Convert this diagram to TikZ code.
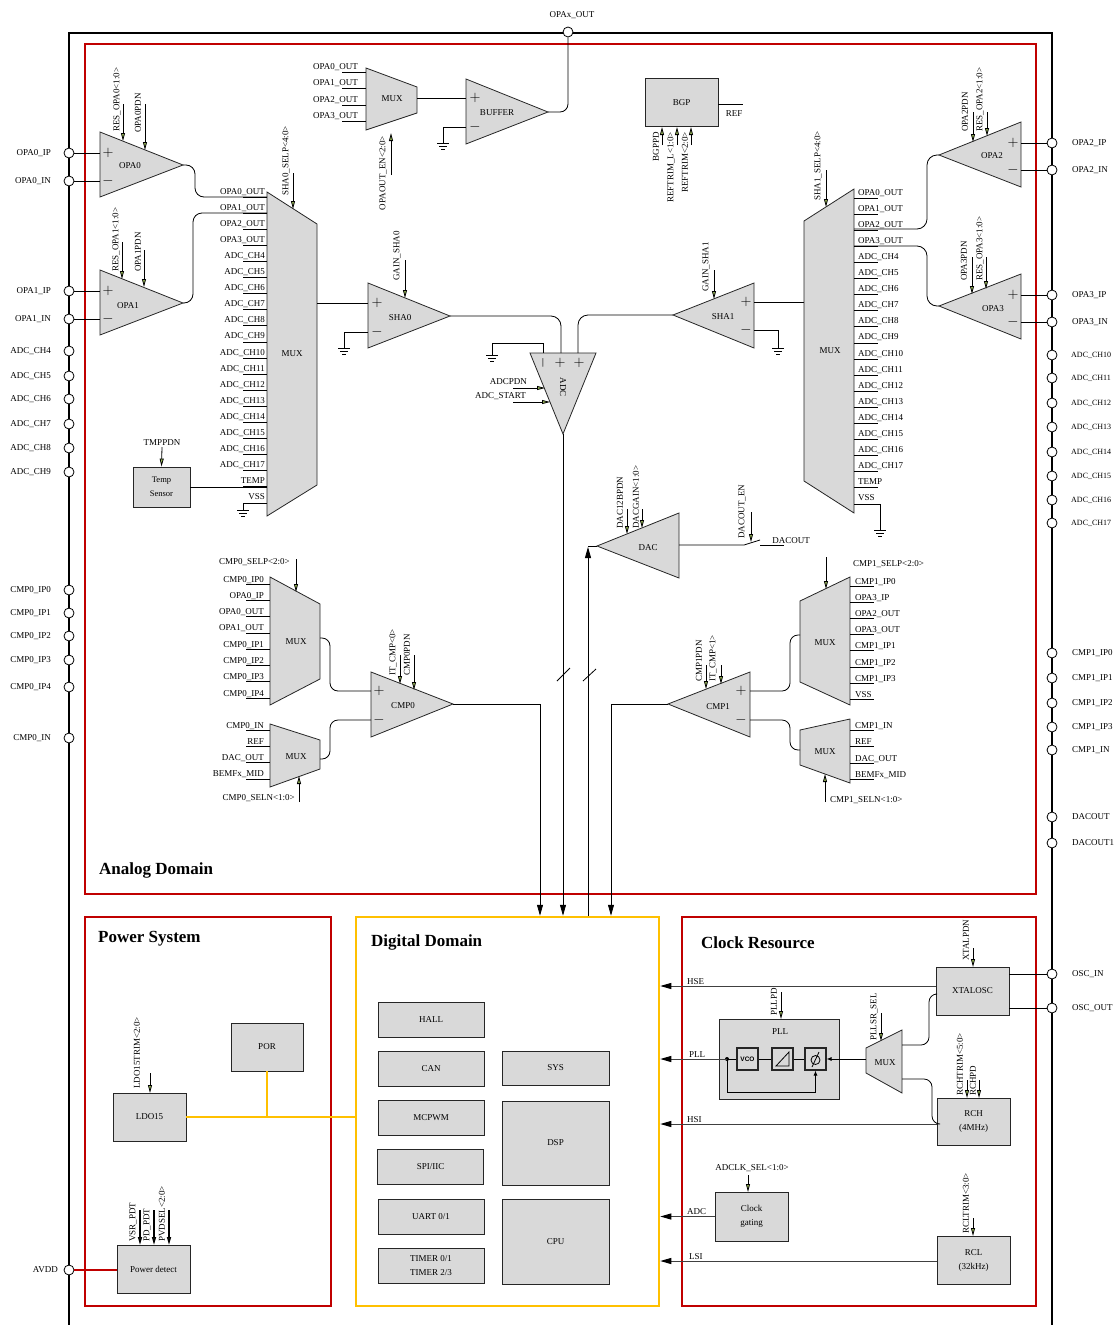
\documentclass[tikz,border=0pt]{standalone}
\usepackage{fontspec}
\setmainfont{Liberation Serif}
\setsansfont{Liberation Sans}
\usetikzlibrary{arrows.meta}

\definecolor{domred}{RGB}{192,0,0}
\definecolor{domyellow}{RGB}{255,192,0}
\definecolor{blockgray}{RGB}{217,217,217}
\definecolor{ctlgreen}{RGB}{155,187,89}

\tikzset{
  every node/.style={font=\fontsize{9}{10}\selectfont, inner sep=1pt},
  blk/.style={draw=black!85, fill=blockgray, line width=0.8pt},
  dblk/.style={blk, minimum width=106pt, minimum height=35pt},
  iblk/.style={blk, line width=1.1pt, minimum width=21pt, minimum height=22pt, inner sep=0pt},
  iopad/.style={circle, draw, fill=white, line width=0.8pt, minimum size=10pt, inner sep=0pt},
  sig/.style={line width=0.8pt},
  ctl/.style={line width=0.8pt, -{Triangle[length=8pt,width=4pt,fill=ctlgreen]}},
  bus/.style={line width=0.8pt, -{Triangle[length=11pt,width=6pt]}},
  clk/.style={line width=1pt, draw=black!75, -{Triangle[length=11pt,width=6pt,color=black]}},
  dombox/.style={draw=domred, line width=2.5pt, inner sep=0pt},
  domtitle/.style={anchor=west, font=\fontsize{17}{20}\selectfont\bfseries},
  rotl/.style={rotate=90, anchor=west},
  rotr/.style={rotate=90, anchor=east},
  sgn/.style={font=\fontsize{14}{14}\selectfont, inner sep=0pt},
  gnd/.pic={\draw[sig] (-6,0) -- (6,0) (-4,3) -- (4,3) (-2,6) -- (2,6);}
}

\begin{document}
\begin{tikzpicture}[x=1pt,y=-1pt]
\useasboundingbox (0,0) rectangle (1115,1325);

% chip outline and domains
\draw[line width=2.5pt] (69,1330) -- (69,33) -- (1052,33) -- (1052,1330);
\node[dombox, minimum width=951pt, minimum height=850pt] (analog) at (560.5,469) {};
\node[domtitle] at (98,870) {Analog Domain};
\node[dombox, minimum width=246pt, minimum height=389pt] (power) at (208,1111.5) {};
\node[domtitle] at (97,939) {Power System};
\node[dombox, draw=domyellow, minimum width=303pt, minimum height=389pt] (digital) at (507.5,1111.5) {};
\node[domtitle] at (370,942) {Digital Domain};
\node[dombox, minimum width=354pt, minimum height=389pt] (clock) at (859,1111.5) {};
\node[domtitle] at (700,943) {Clock Resource};

% pads
\foreach \y/\t in {153/OPA0\_IP,181/OPA0\_IN,291/OPA1\_IP,319/OPA1\_IN,351/ADC\_CH4,376/ADC\_CH5,399/ADC\_CH6,424/ADC\_CH7,448/ADC\_CH8,472/ADC\_CH9,590/CMP0\_IP0,613/CMP0\_IP1,636/CMP0\_IP2,660/CMP0\_IP3,687/CMP0\_IP4,738/CMP0\_IN}{
  \node[iopad] (pl\y) at (69,\y) {};
  \node[anchor=east] at (52,\y) {\t};
}
\foreach \y/\t in {143/OPA2\_IP,170/OPA2\_IN,295/OPA3\_IP,322/OPA3\_IN,653/CMP1\_IP0,678/CMP1\_IP1,703/CMP1\_IP2,727/CMP1\_IP3,750/CMP1\_IN,817/DACOUT,843/DACOUT1,974/OSC\_IN,1008/OSC\_OUT}{
  \node[iopad] (pr\y) at (1052,\y) {};
  \node[anchor=west] at (1071,\y) {\t};
}
\foreach \y/\t in {355/ADC\_CH10,378/ADC\_CH11,403/ADC\_CH12,427/ADC\_CH13,452/ADC\_CH14,476/ADC\_CH15,500/ADC\_CH16,523/ADC\_CH17}{
  \node[iopad] (pr\y) at (1052,\y) {};
  \node[anchor=west, font=\fontsize{8}{9}\selectfont] at (1070,\y) {\t};
}
\node[iopad] (popax) at (568,32) {};
\node at (572,15) {OPAx\_OUT};
\node[iopad] (pavdd) at (69,1270) {};
\node[anchor=east] at (59,1270) {AVDD};

% OPA0 and OPA1
\draw[blk] (100,132) -- (183,165) -- (100,197) -- cycle;
\coordinate (opa0o) at (183,165);
\node at (130,166) {OPA0};
\node[sgn] at (108,153) {$+$};
\node[sgn] at (108,181) {$-$};
\draw[sig] (pl153) -- (100,153);
\draw[sig] (pl181) -- (100,181);
\draw[ctl] (123,104) -- (123,141);
\node[rotl] at (117,133) {RES\_OPA0<1:0>};
\draw[ctl] (145,104) -- (145,150);
\node[rotl] at (138,134) {OPA0PDN};

\draw[blk] (100,270) -- (183,303) -- (100,335) -- cycle;
\coordinate (opa1o) at (183,303);
\node at (128,306) {OPA1};
\node[sgn] at (108,291) {$+$};
\node[sgn] at (108,319) {$-$};
\draw[sig] (pl291) -- (100,291);
\draw[sig] (pl319) -- (100,319);
\draw[ctl] (122,242) -- (122,279);
\node[rotl] at (116,273) {RES\_OPA1<1:0>};
\draw[ctl] (144,250) -- (144,287);
\node[rotl] at (138,273) {OPA1PDN};

% SHA0 input mux
\draw[blk] (267,192) -- (317,224) -- (317,485) -- (267,516) -- cycle;
\node at (292,354) {MUX};
\foreach \i/\t in {0/OPA0\_OUT,1/OPA1\_OUT,2/OPA2\_OUT,3/OPA3\_OUT,4/ADC\_CH4,5/ADC\_CH5,6/ADC\_CH6,7/ADC\_CH7,8/ADC\_CH8,9/ADC\_CH9,10/ADC\_CH10,11/ADC\_CH11,12/ADC\_CH12,13/ADC\_CH13,14/ADC\_CH14,15/ADC\_CH15,16/ADC\_CH16,17/ADC\_CH17,18/TEMP,19/VSS}{
  \draw[sig] (243,197+16.1*\i) -- (267,197+16.1*\i);
  \node[anchor=base east] at (266,194+16.1*\i) {\t};
}
\draw[sig, rounded corners=9pt] (opa0o) -- (195,165) |- (267,197);
\draw[sig, rounded corners=9pt] (opa1o) -- (193,303) |- (267,213);
\draw[ctl] (293,173) -- (293,209);
\node[rotl] at (286,197) {SHA0\_SELP<4:0>};
\node[blk, minimum width=57pt, minimum height=40pt, align=center, font=\fontsize{8.5}{14}\selectfont] (temp) at (161.5,487) {Temp\\Sensor};
\node (tmppdn) at (162,443) {TMPPDN};
\draw[ctl] (tmppdn.south) -- (temp.north);
\draw[sig] (temp.east) -- (267,487);
\draw[sig] (267,503) -- (243,503) -- (243,510);
\pic at (243,510) {gnd};

% SHA0
\draw[blk] (368,283) -- (450,316) -- (368,348) -- cycle;
\coordinate (sha0o) at (450,316);
\node at (400,318) {SHA0};
\node[sgn] at (377,303) {$+$};
\node[sgn] at (377,332) {$-$};
\draw[sig] (317,303) -- (368,303);
\draw[sig] (368,332) -- (344,332) -- (344,348);
\pic at (344,348) {gnd};
\draw[ctl] (405,260) -- (405,298);
\node[rotl] at (397,282) {GAIN\_SHA0};

% ADC
\draw[blk] (530,353) -- (596,353) -- (563,434) -- cycle;
\coordinate (adco) at (563,434);
\node[sgn, rotate=90] at (543,363) {$-$};
\node[sgn] at (560,363) {$+$};
\node[sgn] at (579,363) {$+$};
\node[rotate=-90] at (563,387) {ADC};
\draw[sig] (543,353) -- (543,343) -- (492,343) -- (492,355);
\pic at (492,355) {gnd};
\node[anchor=east] at (528,382) {ADCPDN};
\draw[ctl] (513,388) -- (545,388);
\node[anchor=east] at (527,396) {ADC\_START};
\draw[ctl] (513,402) -- (550,402);
\draw[sig, rounded corners=10pt] (sha0o) -- (561,316) -- (561,353);

% SHA1
\draw[blk] (754,283) -- (673,315) -- (754,348) -- cycle;
\coordinate (sha1o) at (673,315);
\node at (723,317) {SHA1};
\node[sgn] at (746,302) {$+$};
\node[sgn] at (746,330) {$-$};
\draw[sig] (804,302) -- (754,302);
\draw[sig] (754,330) -- (778,330) -- (778,348);
\pic at (778,348) {gnd};
\draw[ctl] (714,270) -- (714,299);
\node[rotl] at (706,293) {GAIN\_SHA1};
\draw[sig, rounded corners=10pt] (sha1o) -- (578,315) -- (578,353);

% SHA1 input mux
\draw[blk] (804,221) -- (854,189) -- (854,513) -- (804,481) -- cycle;
\node at (830,351) {MUX};
\foreach \i/\t in {0/OPA0\_OUT,1/OPA1\_OUT,2/OPA2\_OUT,3/OPA3\_OUT,4/ADC\_CH4,5/ADC\_CH5,6/ADC\_CH6,7/ADC\_CH7,8/ADC\_CH8,9/ADC\_CH9,10/ADC\_CH10,11/ADC\_CH11,12/ADC\_CH12,13/ADC\_CH13,14/ADC\_CH14,15/ADC\_CH15,16/ADC\_CH16,17/ADC\_CH17,18/TEMP,19/VSS}{
  \draw[sig] (854,198+16.1*\i) -- (878,198+16.1*\i);
  \node[anchor=base west] at (857,195+16.1*\i) {\t};
}
\draw[ctl] (826,170) -- (826,207);
\node[rotl] at (818,202) {SHA1\_SELP<4:0>};
\draw[sig] (854,504) -- (880,504) -- (880,530);
\pic at (880,530) {gnd};

% OPA2 and OPA3
\draw[blk] (1021,122) -- (939,155) -- (1021,187) -- cycle;
\coordinate (opa2o) at (939,155);
\node at (992,156) {OPA2};
\node[sgn] at (1013,143) {$+$};
\node[sgn] at (1013,170) {$-$};
\draw[sig] (pr143) -- (1021,143);
\draw[sig] (pr170) -- (1021,170);
\draw[sig, rounded corners=10pt] (opa2o) -- (927,155) |- (854,229);
\draw[ctl] (973,112) -- (973,142);
\node[rotl] at (965,133) {OPA2PDN};
\draw[ctl] (987,112) -- (987,136);
\node[rotl] at (980,133) {RES\_OPA2<1:0>};

\draw[blk] (1021,274) -- (939,306) -- (1021,339) -- cycle;
\coordinate (opa3o) at (939,306);
\node at (993,309) {OPA3};
\node[sgn] at (1013,295) {$+$};
\node[sgn] at (1013,322) {$-$};
\draw[sig] (pr295) -- (1021,295);
\draw[sig] (pr322) -- (1021,322);
\draw[sig, rounded corners=10pt] (opa3o) -- (927,306) |- (854,246);
\draw[ctl] (972,257) -- (972,294);
\node[rotl] at (964,282) {OPA3PDN};
\draw[ctl] (986,257) -- (986,289);
\node[rotl] at (980,282) {RES\_OPA3<1:0>};

% bandgap
\node[blk, minimum width=73pt, minimum height=48pt] (bgp) at (681.5,102.5) {BGP};
\draw[sig] (bgp.east |- 0,104) -- (743,104);
\node at (734,114) {REF};
\draw[ctl] (662,145) -- (662,127);
\draw[ctl] (677,145) -- (677,127);
\draw[ctl] (691,145) -- (691,127);
\node[rotr] at (656,131) {BGPPD};
\node[rotr] at (671,131) {REFTRIM\_L<1:0>};
\node[rotr] at (685,131) {REFTRIM<2:0>};

% OPA output mux and buffer
\draw[blk] (366,68) -- (417,87) -- (417,113) -- (366,130) -- cycle;
\node at (392,99) {MUX};
\foreach \i/\t in {0/OPA0\_OUT,1/OPA1\_OUT,2/OPA2\_OUT,3/OPA3\_OUT}{
  \draw[sig] (342,72+16.5*\i) -- (366,72+16.5*\i);
  \node[anchor=base east] at (359,69+16.5*\i) {\t};
}
\draw[ctl] (391,175) -- (391,133);
\node[rotr] at (383,135) {OPAOUT\_EN<2:0>};
\draw[blk] (466,79) -- (548,112) -- (466,144) -- cycle;
\coordinate (bufo) at (548,112);
\node at (497,113) {BUFFER};
\node[sgn] at (475,98) {$+$};
\node[sgn] at (475,127) {$-$};
\draw[sig] (417,98) -- (466,98);
\draw[sig] (466,127) -- (443,127) -- (443,143);
\pic at (443,143) {gnd};
\draw[sig, rounded corners=8pt] (bufo) -- (568,112) -- (popax);

% DAC
\draw[blk] (679,513) -- (597,546) -- (679,578) -- cycle;
\coordinate (daci) at (597,546);
\node at (648,548) {DAC};
\draw[sig] (679,545) -- (744,545) -- (760,540);
\draw[sig] (760,545) -- (784,545);
\node[anchor=base] at (791,543) {DACOUT};
\draw[ctl] (751,512) -- (751,542);
\node[rotl] at (742,540) {DACOUT\_EN};
\draw[ctl] (627,509) -- (627,534);
\node[rotl] at (620,530) {DAC12BPDN};
\draw[ctl] (642,509) -- (642,528);
\node[rotl] at (636,530) {DACGAIN<1:0>};

% CMP0 input muxes
\draw[blk] (270,577) -- (320,604) -- (320,679) -- (270,705) -- cycle;
\node at (296,642) {MUX};
\foreach \i/\t in {0/CMP0\_IP0,1/OPA0\_IP,2/OPA0\_OUT,3/OPA1\_OUT,4/CMP0\_IP1,5/CMP0\_IP2,6/CMP0\_IP3,7/CMP0\_IP4}{
  \draw[sig] (246,584+16.3*\i) -- (270,584+16.3*\i);
  \node[anchor=base east] at (265,582+16.3*\i) {\t};
}
\node[anchor=east] at (291,562) {CMP0\_SELP<2:0>};
\draw[ctl] (296,559) -- (296,592);
\draw[blk] (270,724) -- (320,740) -- (320,769) -- (270,787) -- cycle;
\node at (296,757) {MUX};
\foreach \i/\t in {0/CMP0\_IN,1/REF,2/DAC\_OUT,3/BEMFx\_MID}{
  \draw[sig] (246,730+16.3*\i) -- (270,730+16.3*\i);
  \node[anchor=base east] at (265,728+16.3*\i) {\t};
}
\draw[ctl] (299,802) -- (299,776);
\node[anchor=east] at (296,798) {CMP0\_SELN<1:0>};

% CMP0
\draw[blk] (371,672) -- (453,704) -- (371,737) -- cycle;
\coordinate (cmp0o) at (453,704);
\node at (403,706) {CMP0};
\node[sgn] at (379,691) {$+$};
\node[sgn] at (379,720) {$-$};
\draw[sig, rounded corners=8pt] (320,638) -| (330,691) -- (371,691);
\draw[sig, rounded corners=8pt] (320,759) -| (330,720) -- (371,720);
\draw[ctl] (400,655) -- (400,684);
\node[rotl] at (393,677) {IT\_CMP<0>};
\draw[ctl] (414,655) -- (414,690);
\node[rotl] at (407,677) {CMP0PDN};

% CMP1 input muxes
\draw[blk] (800,601) -- (850,577) -- (850,705) -- (800,682) -- cycle;
\node at (825,643) {MUX};
\foreach \i/\t in {0/CMP1\_IP0,1/OPA3\_IP,2/OPA2\_OUT,3/OPA3\_OUT,4/CMP1\_IP1,5/CMP1\_IP2,6/CMP1\_IP3,7/VSS}{
  \draw[sig] (850,586+16.2*\i) -- (874,586+16.2*\i);
  \node[anchor=base west] at (854,584+16.2*\i) {\t};
}
\draw[ctl] (826,557) -- (826,589);
\node[anchor=west] at (852,564) {CMP1\_SELP<2:0>};
\draw[blk] (800,730) -- (850,719) -- (850,783) -- (800,765) -- cycle;
\node at (825,752) {MUX};
\foreach \i/\t in {0/CMP1\_IN,1/REF,2/DAC\_OUT,3/BEMFx\_MID}{
  \draw[sig] (850,730+16.5*\i) -- (874,730+16.5*\i);
  \node[anchor=base west] at (854,728+16.5*\i) {\t};
}
\draw[ctl] (825,802) -- (825,774);
\node[anchor=west] at (829,800) {CMP1\_SELN<1:0>};

% CMP1
\draw[blk] (750,672) -- (668,704) -- (750,737) -- cycle;
\coordinate (cmp1o) at (668,704);
\node at (718,707) {CMP1};
\node[sgn] at (741,691) {$+$};
\node[sgn] at (741,720) {$-$};
\draw[sig, rounded corners=8pt] (750,691) -| (790,635) -- (800,635);
\draw[sig, rounded corners=8pt] (750,720) -| (790,750) -- (800,750);
\draw[ctl] (706,665) -- (706,689);
\node[rotl] at (699,683) {CMP1PDN};
\draw[ctl] (721,665) -- (721,684);
\node[rotl] at (713,683) {IT\_CMP<1>};

% analog to digital
\draw[bus] (cmp0o) -| (540,0 |- digital.north);
\draw[bus] (adco) -- (563,0 |- digital.north);
\draw[bus] (588,0 |- digital.north) -- (588,547);
\draw[sig] (588,546) -- (daci);
\draw[bus] (cmp1o) -| (611,0 |- digital.north);
\draw[sig] (557,681) -- (570,668);
\draw[sig] (583,681) -- (596,669);

% power system
\node[blk, minimum width=72pt, minimum height=48pt] (por) at (267,1047) {POR};
\node[blk, minimum width=73pt, minimum height=48pt] (ldo) at (149.5,1117) {LDO15};
\draw[ctl] (150,1073) -- (150,1093);
\node[rotl] at (137,1090) {LDO15TRIM<2:0>};
\draw[domyellow, line width=2.5pt] (ldo.east) -- (ldo.east -| digital.west);
\draw[domyellow, line width=2.5pt] (por.south) -- (por.south |- ldo.east);
\node[blk, minimum width=73pt, minimum height=48pt] (pdet) at (153.5,1269) {Power detect};
\draw[domred, line width=2.5pt] (pavdd) -- (pavdd -| pdet.west);
\draw[ctl, line width=1.4pt] (140,1210) -- (140,1245);
\draw[ctl, line width=1.4pt] (154,1210) -- (154,1245);
\draw[ctl, line width=1.4pt] (169,1210) -- (169,1245);
\node[rotl] at (133,1243) {VSR\_PDT};
\node[rotl] at (147,1243) {PD\_PDT};
\node[rotl] at (162,1243) {PVDSEL<2:0>};

% digital domain
\node[dblk] (hall) at (431,1019.5) {HALL};
\node[dblk] (can) at (431,1068.5) {CAN};
\node[dblk] (mcpwm) at (431,1118) {MCPWM};
\node[dblk] (spi) at (430.5,1166.5) {SPI/IIC};
\node[dblk] (uart) at (431,1216.5) {UART 0/1};
\node[dblk, align=center, font=\fontsize{9}{14}\selectfont] (timer) at (431,1266) {TIMER 0/1\\TIMER 2/3};
\node[dblk, minimum width=107pt, minimum height=34pt] (sys) at (555.5,1068) {SYS};
\node[dblk, minimum width=107pt, minimum height=84pt] (dsp) at (555.5,1143) {DSP};
\node[dblk, minimum width=107pt, minimum height=85pt] (cpu) at (555.5,1241.5) {CPU};

% clock resource
\node[blk, minimum width=73pt, minimum height=48pt] (xtal) at (972.5,991) {XTALOSC};
\draw[sig] (xtal.east |- 0,974) -- (pr974);
\draw[sig] (xtal.east |- 0,1008) -- (pr1008);
\draw[ctl] (973,948) -- (973,967);
\node[rotl] at (966,962) {XTALPDN};
\draw[clk] (xtal.west |- 0,986) -- (digital.east |- 0,986);
\node[anchor=base west] at (686,984) {HSE};

\node[blk, minimum width=120pt, minimum height=80pt] (pll) at (779,1059) {};
\node at (780,1032) {PLL};
\draw[ctl] (781,992) -- (781,1019);
\node[rotl] at (774,1017) {PLLPD};
\node[iblk, font=\sffamily\bfseries\fontsize{6.5}{7}\selectfont] (vco) at (747.5,1059) {VCO};
\node[iblk] (filt) at (782.5,1059) {};
\draw[sig] (776,1066) -- (789,1066) -- (789,1052) -- cycle;
\node[iblk] (pfd) at (815.5,1059) {};
\draw[sig] (815.5,1060) circle (4.5);
\draw[sig] (812,1067) -- (819,1052);
\draw[sig] (pfd) -- (filt);
\draw[sig] (filt) -- (vco);
\coordinate (pllo) at (727,1059);
\fill (pllo) circle (2);
\draw[sig] (vco) -- (pllo);
\draw[clk] (pllo) -- (digital.east |- pllo);
\node[anchor=base west] at (688,1057) {PLL};
\draw[sig, -{Latex[length=5pt,width=4pt]}] (pllo) -- (727,1092) -| (pfd.south);
\draw[blk] (866,1048) -- (902,1030) -- (902,1093) -- (866,1073) -- cycle;
\node at (885,1063) {MUX};
\draw[sig, -{Latex[length=5pt,width=4pt]}] (866,1059) -- (pfd.east);
\draw[ctl] (881,1013) -- (881,1041);
\node[rotl] at (874,1042) {PLLSR\_SEL};

\node[blk, minimum width=73pt, minimum height=47pt, align=center, font=\fontsize{9}{14}\selectfont] (rch) at (973.5,1121.5) {RCH\\(4MHz)};
\draw[ctl] (967,1080) -- (967,1098);
\draw[ctl] (979,1080) -- (979,1098);
\node[rotl] at (960,1097) {RCHTRIM<5:0>};
\node[rotl] at (973,1097) {RCHPD};
\draw[sig, rounded corners=8pt] (902,1045) -| (929,994) -- (xtal.west |- 0,994);
\draw[sig, rounded corners=8pt] (902,1079) -| (932,1124) -- (rch.west |- 0,1124);
\draw[clk] (rch.west |- 0,1124) -- (digital.east |- 0,1124);
\node[anchor=base west] at (686,1122) {HSI};

\node[blk, minimum width=73pt, minimum height=49pt, align=center, font=\fontsize{9}{14}\selectfont] (cg) at (751.5,1216.5) {Clock\\gating};
\node at (752,1168) {ADCLK\_SEL<1:0>};
\draw[ctl] (748,1175) -- (748,1192);
\draw[clk] (cg.west) -- (digital.east |- cg.west);
\node[anchor=base west] at (686,1214) {ADC};

\node[blk, minimum width=73pt, minimum height=48pt, align=center, font=\fontsize{9}{14}\selectfont] (rcl) at (973.5,1260) {RCL\\(32kHz)};
\draw[ctl] (973,1218) -- (973,1236);
\node[rotl] at (966,1235) {RCLTRIM<3:0>};
\draw[clk] (rcl.west |- 0,1261) -- (digital.east |- 0,1261);
\node[anchor=base west] at (688,1259) {LSI};

\end{tikzpicture}
\end{document}
